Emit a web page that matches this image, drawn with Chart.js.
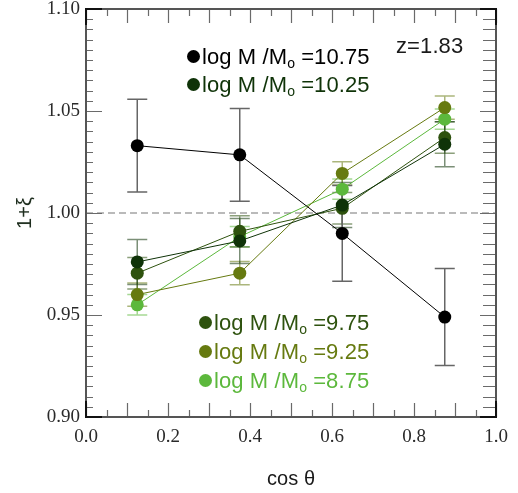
<!DOCTYPE html>
<html>
<head>
<meta charset="utf-8">
<script src="https://cdn.jsdelivr.net/npm/chart.js@4.4.1/dist/chart.umd.min.js"></script>
<style>
body { margin: 0; background: #fff; }
#wrap { position: relative; width: 518px; height: 493px; }
.lab { position: absolute; font-family: "Liberation Sans", Arial, sans-serif; font-size: 22px; white-space: nowrap; line-height: 22px; letter-spacing: 0.1px; }
.lab sub { font-size: 14px; vertical-align: -4px; line-height: 0; letter-spacing: 0; }
.dot { display: inline-block; width: 13px; height: 13px; border-radius: 50%; margin-right: 2px; vertical-align: 1px; }
</style>
</head>
<body>
<div id="wrap">
<canvas id="corr" width="518" height="493"></canvas>
<div class="lab" style="left:187px;top:46px;color:#000"><span class="dot" style="background:#000"></span>log M /M<sub>o</sub> =10.75</div>
<div class="lab" style="left:187px;top:74px;color:#0f3308"><span class="dot" style="background:#0f3308"></span>log M /M<sub>o</sub> =10.25</div>
<div class="lab" style="left:396px;top:35px;color:#1a1a1a">z=1.83</div>
<div class="lab" style="left:199px;top:312px;color:#2e520e"><span class="dot" style="background:#2e520e"></span>log M /M<sub>o</sub> =9.75</div>
<div class="lab" style="left:199px;top:341px;color:#667a10"><span class="dot" style="background:#667a10"></span>log M /M<sub>o</sub> =9.25</div>
<div class="lab" style="left:199px;top:370px;color:#5cb83c"><span class="dot" style="background:#5cb83c"></span>log M /M<sub>o</sub> =8.75</div>
<div class="lab" style="left:267px;top:467px;color:#1a1a1a;font-size:20px">cos θ</div>
<div class="lab" style="left:8px;top:202px;color:#1a2a1a;font-size:20px;transform:rotate(-90deg)">1+ξ</div>
</div>
<script>
// cos(theta) bin centres
const cosTheta = [0.125, 0.375, 0.625, 0.875];
const massBins = ["10.75", "10.25", "9.75", "9.25", "8.75"];
const colors = ["#000000", "#0f3308", "#2e520e", "#667a10", "#5cb83c"];
const errColors = ["#666666", "rgba(15,51,8,0.55)", "rgba(46,82,14,0.55)", "rgba(102,122,16,0.55)", "rgba(92,184,60,0.55)"];

// 1+xi values and errors per mass bin
const xi1075 = [1.033, 1.0285, 0.990, 0.949];
const err1075 = [0.0227, 0.0227, 0.0235, 0.0238];
const xi1025 = [0.976, 0.9863, 1.0039, 1.0337];
const err1025 = [0.011, 0.011, 0.011, 0.011];
const xi975 = [0.9705, 0.991, 1.0023, 1.037];
const err975 = [0.0077, 0.0077, 0.0077, 0.0077];
const xi925 = [0.960, 0.9705, 1.0194, 1.0517];
const err925 = [0.0057, 0.0057, 0.0057, 0.0057];
const xi875 = [0.955, 0.9884, 1.0117, 1.046];
const err875 = [0.005, 0.005, 0.005, 0.005];

const yTicks = [0.90, 0.95, 1.00, 1.05, 1.10];
const xTicks = [0.0, 0.2, 0.4, 0.6, 0.8, 1.0];

const series = [xi1075, xi1025, xi975, xi925, xi875];
const errors = [err1075, err1025, err975, err925, err875];

// error bars + reference line under the points
const errorBars = {
    id: 'errorBars',
    beforeDatasetsDraw(chart) {
        const ctx = chart.ctx, xs = chart.scales.x, ys = chart.scales.y;
        const a = chart.chartArea;
        ctx.save();
        ctx.strokeStyle = '#777';
        ctx.lineWidth = 1.2;
        ctx.setLineDash([7, 4]);
        ctx.beginPath();
        ctx.moveTo(a.left, ys.getPixelForValue(1.0));
        ctx.lineTo(a.right, ys.getPixelForValue(1.0));
        ctx.stroke();
        ctx.setLineDash([]);
        for (let s = series.length - 1; s >= 0; s--) {
            ctx.strokeStyle = errColors[s];
            ctx.lineWidth = 1.5;
            cosTheta.forEach((c, i) => {
                const px = xs.getPixelForValue(c);
                const lo = ys.getPixelForValue(series[s][i] - errors[s][i]);
                const hi = ys.getPixelForValue(series[s][i] + errors[s][i]);
                ctx.beginPath();
                ctx.moveTo(px, lo); ctx.lineTo(px, hi);
                ctx.moveTo(px - 10, lo); ctx.lineTo(px + 10, lo);
                ctx.moveTo(px - 10, hi); ctx.lineTo(px + 10, hi);
                ctx.stroke();
            });
        }
        ctx.restore();
    },
    afterDraw(chart) {
        // frame and inward ticks on all four sides
        const ctx = chart.ctx, xs = chart.scales.x, ys = chart.scales.y;
        const a = chart.chartArea;
        ctx.save();
        ctx.strokeStyle = '#6a6a6a';
        ctx.lineWidth = 1.2;
        ctx.beginPath();
        for (let k = 0; k <= 40; k++) {
            const v = 0.90 + k * 0.005;
            const py = Math.round(ys.getPixelForValue(v)) + 0.5;
            const major = k % 10 === 0;
            ctx.moveTo(a.left, py); ctx.lineTo(a.left + (major ? 16 : 7), py);
            ctx.moveTo(a.right, py); ctx.lineTo(a.right - (major ? 16 : 13), py);
        }
        for (let k = 0; k <= 20; k++) {
            const v = k * 0.05;
            const px = Math.round(xs.getPixelForValue(v)) + 0.5;
            const major = k % 2 === 0;
            ctx.moveTo(px, a.bottom); ctx.lineTo(px, a.bottom - (major ? 14 : 7));
            ctx.moveTo(px, a.top); ctx.lineTo(px, a.top + (major ? 14 : 7));
        }
        ctx.stroke();
        ctx.lineWidth = 2;
        ctx.strokeStyle = '#555';
        ctx.strokeRect(a.left, a.top, a.right - a.left, a.bottom - a.top);
        // darker corners
        ctx.strokeStyle = '#111';
        const c = 16;
        ctx.beginPath();
        ctx.moveTo(a.left + c, a.top); ctx.lineTo(a.left, a.top); ctx.lineTo(a.left, a.top + c);
        ctx.moveTo(a.left, a.bottom - c); ctx.lineTo(a.left, a.bottom); ctx.lineTo(a.left + c, a.bottom);
        ctx.moveTo(a.right - c, a.bottom); ctx.lineTo(a.right, a.bottom); ctx.lineTo(a.right, a.bottom - c);
        ctx.moveTo(a.right, a.top + c); ctx.lineTo(a.right, a.top); ctx.lineTo(a.right - c, a.top);
        ctx.stroke();
        ctx.restore();
    }
};

const datasets = series.map((vals, s) => ({
    label: 'log M /Mo =' + massBins[s],
    data: cosTheta.map((c, i) => ({ x: c, y: vals[i] })),
    borderColor: colors[s],
    backgroundColor: colors[s],
    borderWidth: 1,
    pointRadius: 6.5,
    pointHoverRadius: 6.5,
    pointBorderWidth: 0,
    showLine: true
}));

new Chart(document.getElementById('corr'), {
    type: 'scatter',
    data: { datasets: datasets },
    plugins: [errorBars],
    options: {
        responsive: false,
        animation: false,
        layout: { padding: { top: 9, right: 22, left: 0, bottom: 0 } },
        plugins: { legend: { display: false }, tooltip: { enabled: false } },
        scales: {
            x: {
                type: 'linear', min: 0, max: 1,
                afterFit(scale) { scale.height = 76; scale.paddingLeft = 0; scale.paddingRight = 0; },
                afterBuildTicks(scale) { scale.ticks = xTicks.map(v => ({ value: v })); },
                grid: { display: false, drawTicks: false },
                border: { display: false },
                ticks: {
                    padding: 9,
                    color: '#2a2a2a',
                    font: { family: '"Liberation Serif", "Times New Roman", serif', size: 19 },
                    callback: v => v.toFixed(1)
                }
            },
            y: {
                type: 'linear', min: 0.90, max: 1.10,
                afterFit(scale) { scale.width = 86; scale.paddingTop = 0; scale.paddingBottom = 0; },
                afterBuildTicks(scale) { scale.ticks = yTicks.map(v => ({ value: v })); },
                grid: { display: false, drawTicks: false },
                border: { display: false },
                ticks: {
                    padding: 6,
                    color: '#2a2a2a',
                    font: { family: '"Liberation Serif", "Times New Roman", serif', size: 19 },
                    callback: v => v.toFixed(2)
                }
            }
        }
    }
});
</script>
</body>
</html>
